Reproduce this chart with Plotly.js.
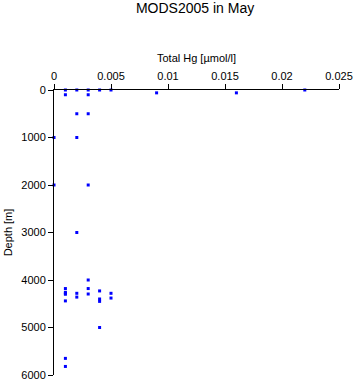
<!DOCTYPE html>
<html><head><meta charset="utf-8">
<script src="https://cdn.plot.ly/plotly-3.0.1.min.js"></script>
<style>body{margin:0;padding:0;background:#fff}#chart{width:356px;height:384px}</style>
</head><body><div id="chart"></div>
<script>
const totalHg = [0.001,0.001,0.002,0.003,0.003,0.004,0.005,0.009,0.016,0.022,
  0.002,0.003,0,0.002,0,0.003,0.002,
  0.003,0.001,0.003,0.004,0.001,0.001,0.001,0.002,0.003,0.005,0.002,0.004,0.004,0.005,0.001,0.004,0.001,0.001];
const depth = [0,100,0,0,100,0,0,60,60,0,
  500,500,1000,1000,2000,2000,3000,
  4000,4180,4180,4230,4260,4280,4300,4280,4295,4280,4360,4400,4450,4380,4440,5000,5650,5820];
const xTickVals = [0, 0.005, 0.01, 0.015, 0.02, 0.025];
const xTickText = ['0', '0.005', '0.01', '0.015', '0.02', '0.025'];
const yTickVals = [0, 1000, 2000, 3000, 4000, 5000, 6000];

const trace = {x: totalHg, y: depth, type: 'scatter', mode: 'markers',
  marker: {symbol: 'square', size: 3, color: '#0000ff'}, cliponaxis: false};

const axisFont = {family: 'Liberation Sans, Arial, sans-serif', size: 11, color: '#000'};
const layout = {
  width: 356, height: 384,
  margin: {l: 54, r: 17, t: 90, b: 9},
  paper_bgcolor: '#fff', plot_bgcolor: '#fff',
  showlegend: false,
  title: {text: 'MODS2005 in May', font: {family: 'Liberation Sans, Arial, sans-serif', size: 14, color: '#000'}, x: 0.548, xanchor: 'center', y: 0.978, yanchor: 'middle'},
  xaxis: {side: 'top', range: [0, 0.025], tickmode: 'array', tickvals: xTickVals, ticktext: xTickText, tickangle: 0,
    showgrid: false, zeroline: false,
    showline: true, linecolor: '#000', linewidth: 1, ticks: 'outside', ticklen: 5, tickcolor: '#000',
    tickfont: axisFont,
    title: {text: 'Total Hg [µmol/l]', font: axisFont, standoff: 4}},
  yaxis: {range: [6000, 0], tickmode: 'array', tickvals: yTickVals, showgrid: false, zeroline: false,
    showline: true, linecolor: '#000', linewidth: 1, ticks: 'outside', ticklen: 5, tickcolor: '#000',
    tickfont: axisFont,
    title: {text: 'Depth [m]', font: axisFont, standoff: 6}}
};
Plotly.newPlot('chart', [trace], layout, {displayModeBar: false, staticPlot: true});
</script></body></html>
